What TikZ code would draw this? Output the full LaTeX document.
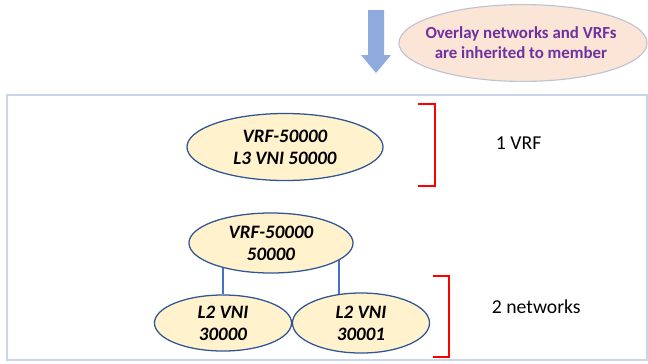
\documentclass[tikz,border=0pt]{standalone}
\usepackage{fontspec}
\setmainfont{Carlito}
\usetikzlibrary{shapes.geometric,backgrounds}

\definecolor{boxline}{HTML}{C9D5E8}
\definecolor{arrowblue}{HTML}{8FAADC}
\definecolor{peach}{HTML}{FBE5D6}
\definecolor{peachline}{HTML}{BDC3D3}
\definecolor{cream}{HTML}{FFF2CC}
\definecolor{darkblue}{HTML}{2F5597}
\definecolor{linkblue}{HTML}{4472C4}
\definecolor{notepurple}{HTML}{7030A0}

\tikzset{
  vni/.style={ellipse,draw=darkblue,fill=cream,line width=0.9pt,inner sep=0pt,
    align=center,font=\fontsize{13.5}{15.5}\selectfont\bfseries\itshape},
  link/.style={draw=linkblue,line width=0.9pt},
  brace/.style={draw=red,line width=1.1pt},
  count/.style={anchor=west,font=\fontsize{14}{16}\selectfont}
}

\begin{document}
\begin{tikzpicture}[x=0.025cm,y=-0.025cm]
                \useasboundingbox (0,0) rectangle (648,363);
                \draw[boxline,line width=1pt] (7,95) rectangle (647,360);
                \fill[arrowblue] (368,10) -- (384,10) -- (384,55) -- (391,55) -- (376,73) -- (361,55) -- (368,55) -- cycle;
                \filldraw[draw=peachline,fill=peach,line width=0.8pt] (523,43) ellipse [x radius=3.1cm,y radius=0.96cm];
                \node[align=center,text=notepurple,font=\fontsize{12}{14.2}\selectfont\bfseries] (note) at (521,43)
                  {Overlay networks and VRFs\\are inherited to member};
                % single VRF
                \node[vni,minimum width=4.9cm,minimum height=1.675cm] (vrf1) at (285,147) {VRF-50000\\L3 VNI 50000};
                \draw[brace] (418,104) -- (435,104) -- (435,186) -- (418,186);
                \node[count] (one) at (491,143) {1 VRF};
                % VRF with two networks
                \node[vni,minimum width=4.1cm,minimum height=1.5cm] (vrf2) at (271,243) {VRF-50000\\50000};
                \node[vni,minimum width=3.425cm,minimum height=1.4cm] (l2a) at (223,323) {L2 VNI\\30000};
                \node[vni,minimum width=3.425cm,minimum height=1.5cm] (l2b) at (361,323) {L2 VNI\\30001};
                \begin{pgfonlayer}{background}
                \draw[link] (vrf2.center -| l2a.north) -- (l2a.north);
                \draw[link] ([xshift=-0.55cm]vrf2.center -| l2b.center) -- ([xshift=-0.55cm]l2b.center);
                \end{pgfonlayer}
                \draw[brace] (433,276) -- (449,276) -- (449,357) -- (433,357);
                \node[count] (two) at (487,307) {2 networks};
            \end{tikzpicture}
\end{document}
